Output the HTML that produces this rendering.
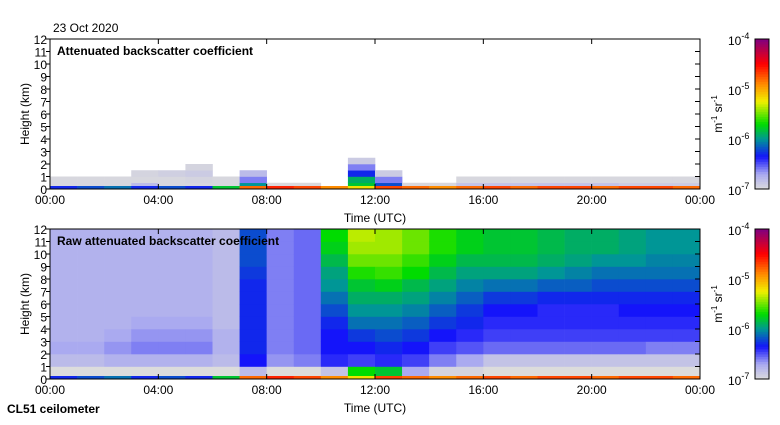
<!DOCTYPE html>
<html><head><meta charset="utf-8"><style>
body{margin:0;background:#fff;}
svg text{font-family:"Liberation Sans",sans-serif;font-size:12px;fill:#000;}
</style></head><body>
<svg id="c" width="780" height="420" xmlns="http://www.w3.org/2000/svg"></svg>
<script>
// ---- data (log10 backscatter) ----
const hours = ["00:00","04:00","08:00","12:00","16:00","20:00","00:00"];
const heightTicks = [0,1,2,3,4,5,6,7,8,9,10,11,12];
const cbarLabels = ["-7","-6","-5","-4"];
// bottom panel: 24 hourly columns, 12 one-km height bins (bottom->top)
const rawGrid = [
 [-7,-6.8,-6.7,-6.75,-6.75,-6.75,-6.75,-6.75,-6.75,-6.75,-6.75,-6.75],
 [-7,-6.8,-6.7,-6.75,-6.75,-6.75,-6.75,-6.75,-6.75,-6.75,-6.75,-6.75],
 [-7,-6.75,-6.65,-6.7,-6.75,-6.75,-6.75,-6.75,-6.75,-6.75,-6.75,-6.75],
 [-7,-6.75,-6.6,-6.65,-6.7,-6.75,-6.75,-6.75,-6.75,-6.75,-6.75,-6.75],
 [-7,-6.75,-6.6,-6.65,-6.7,-6.75,-6.75,-6.75,-6.75,-6.75,-6.75,-6.75],
 [-7,-6.75,-6.6,-6.65,-6.7,-6.75,-6.75,-6.75,-6.75,-6.75,-6.75,-6.75],
 [-7,-6.8,-6.75,-6.75,-6.8,-6.8,-6.8,-6.8,-6.8,-6.8,-6.8,-6.8],
 [-6.8,-6.35,-6.3,-6.3,-6.3,-6.3,-6.3,-6.3,-6.25,-6.2,-6.2,-6.2],
 [-7,-6.65,-6.6,-6.6,-6.6,-6.6,-6.6,-6.6,-6.6,-6.6,-6.6,-6.6],
 [-7,-6.6,-6.55,-6.55,-6.55,-6.55,-6.55,-6.55,-6.55,-6.55,-6.55,-6.55],
 [-6.85,-6.4,-6.35,-6.35,-6.3,-6.2,-6.1,-6.0,-5.95,-5.85,-5.75,-5.7],
 [-5.7,-6.45,-6.35,-6.25,-6.1,-6.0,-5.9,-5.8,-5.65,-5.5,-5.4,-5.35],
 [-5.8,-6.4,-6.3,-6.2,-6.1,-6.0,-5.9,-5.75,-5.6,-5.5,-5.4,-5.4],
 [-6.7,-6.45,-6.35,-6.25,-6.15,-6.05,-5.95,-5.85,-5.7,-5.6,-5.5,-5.5],
 [-6.95,-6.6,-6.45,-6.35,-6.25,-6.15,-6.05,-5.95,-5.85,-5.75,-5.65,-5.65],
 [-6.95,-6.7,-6.5,-6.4,-6.3,-6.25,-6.15,-6.05,-5.95,-5.85,-5.75,-5.75],
 [-7,-6.85,-6.55,-6.45,-6.4,-6.35,-6.25,-6.1,-5.95,-5.85,-5.8,-5.8],
 [-7,-6.85,-6.55,-6.45,-6.4,-6.35,-6.25,-6.1,-5.95,-5.85,-5.8,-5.8],
 [-7,-6.85,-6.55,-6.45,-6.4,-6.4,-6.3,-6.15,-6.0,-5.9,-5.85,-5.85],
 [-7,-6.85,-6.55,-6.45,-6.4,-6.4,-6.3,-6.15,-6.05,-5.95,-5.9,-5.9],
 [-7,-6.85,-6.55,-6.45,-6.4,-6.4,-6.3,-6.2,-6.1,-6.0,-5.9,-5.9],
 [-7,-6.85,-6.55,-6.45,-6.4,-6.35,-6.3,-6.2,-6.1,-6.0,-5.95,-5.95],
 [-7,-6.85,-6.6,-6.45,-6.4,-6.35,-6.3,-6.2,-6.1,-6.05,-6.0,-6.0],
 [-7,-6.85,-6.6,-6.45,-6.4,-6.35,-6.3,-6.2,-6.1,-6.05,-6.0,-6.0]
];
// top panel: 24 hourly columns, 6 half-km bins (0-3 km); null = no signal
const attGrid = [
 [-6.97,-6.97,null,null,null,null],
 [-6.97,-6.97,null,null,null,null],
 [-6.97,-6.97,null,null,null,null],
 [-6.8,-6.97,-6.95,null,null,null],
 [-6.97,-6.97,-6.92,null,null,null],
 [-6.97,-6.95,-6.9,-6.95,null,null],
 [-6.97,-6.97,null,null,null,null],
 [-6.0,-6.6,-6.8,null,null,null],
 [-6.98,null,null,null,null,null],
 [-6.98,null,null,null,null,null],
 [null,null,null,null,null,null],
 [-5.8,-5.9,-6.3,-6.6,-6.9,null],
 [-6.2,-6.6,-6.9,null,null,null],
 [-6.97,null,null,null,null,null],
 [-6.97,null,null,null,null,null],
 [-6.85,-6.97,null,null,null,null],
 [-6.85,-6.97,null,null,null,null],
 [-6.85,-6.97,null,null,null,null],
 [-6.85,-6.97,null,null,null,null],
 [-6.85,-6.97,null,null,null,null],
 [-6.85,-6.97,null,null,null,null],
 [-6.9,-6.97,null,null,null,null],
 [-6.9,-6.97,null,null,null,null],
 [-6.9,-6.97,null,null,null,null]
];
// near-surface strip values per hour
const surface = [-6.3,-6.2,-6.1,-6.3,-6.2,-6.3,-5.8,-4.8,-4.6,-4.7,-4.9,-5.2,-4.7,-4.8,-4.9,-4.8,-4.7,-4.8,-4.7,-4.7,-4.8,-4.7,-4.7,-4.8];

// ---- colormap ----
const stops=[[-7,[220,220,220]],[-6.7,[170,170,240]],[-6.35,[20,20,250]],[-6.0,[0,150,150]],[-5.7,[0,220,0]],[-5.25,[240,240,0]],[-4.9,[255,140,0]],[-4.5,[255,0,0]],[-4,[128,0,128]]];
function cmap(v){
  if(v<=stops[0][0])return `rgb(${stops[0][1]})`;
  for(let i=1;i<stops.length;i++){if(v<=stops[i][0]){const a=stops[i-1],b=stops[i],t=(v-a[0])/(b[0]-a[0]);
    return `rgb(${a[1].map((c,k)=>Math.round(c+(b[1][k]-c)*t))})`;}}
  return `rgb(${stops[stops.length-1][1]})`;
}
const NS="http://www.w3.org/2000/svg", svg=document.getElementById('c');
function el(t,a,p){const e=document.createElementNS(NS,t);for(const k in a)e.setAttribute(k,a[k]);(p||svg).appendChild(e);return e;}
const X0=50,X1=700;
const xs=h=>X0+(X1-X0)*h/24;

function panel(top,bot,grid,kmPerRow,title,name){
  const g=el('g',{});
  
  
  const ys=km=>bot-(bot-top)*km/12;
  grid.forEach((col,i)=>col.forEach((v,j)=>{ if(v===null)return;
    const r=el('rect',{x:xs(i),y:ys((j+1)*kmPerRow),width:xs(i+1)-xs(i)+0.3,height:ys(j*kmPerRow)-ys((j+1)*kmPerRow)+0.3,fill:cmap(v)},g);
    
    
  }));
  surface.forEach((v,i)=>{const r=el('rect',{x:xs(i),y:bot-3,width:xs(i+1)-xs(i)+0.3,height:3,fill:cmap(v)},g);
    
    });
  el('rect',{x:X0,y:top,width:X1-X0,height:bot-top,fill:'none',stroke:'#000','stroke-width':1},g);
  heightTicks.forEach(h=>{const y=ys(h);
    el('line',{x1:X0-4,x2:X0,y1:y,y2:y,stroke:'#000'},g);
    el('line',{x1:X1-5,x2:X1,y1:y,y2:y,stroke:'#000'},g);
    const t=el('text',{x:X0-3,y:y+5,'text-anchor':'end','font-size':'13'},g);t.textContent=h;
    });
  hours.forEach((l,i)=>{const x=xs(i*4);
    el('line',{x1:x,x2:x,y1:top,y2:top+5,stroke:'#000'},g);
    el('line',{x1:x,x2:x,y1:bot-5,y2:bot,stroke:'#000'},g);
    const t=el('text',{x:x,y:bot+15,'text-anchor':'middle','font-size':'13'},g);t.textContent=l;
    });
  const tt=el('text',{x:57,y:top+16,'font-weight':'bold','font-size':'12.5'},g);tt.textContent=title;
  
  const xt=el('text',{x:375,y:bot+33,'text-anchor':'middle','font-size':'12.5'},g);xt.textContent='Time (UTC)';
  
  const yt=el('text',{x:0,y:0,'text-anchor':'middle','font-size':'13',transform:`translate(29,${(top+bot)/2}) rotate(-90)`},g);yt.textContent='Height (km)';
  
  const cb=el('g',{},g);
  
  
  const n=60;
  for(let k=0;k<n;k++){const v=-7+3*k/n;
    el('rect',{x:755,y:bot-(bot-top)*(k+1)/n,width:14,height:(bot-top)/n+0.4,fill:cmap(v+1.5/n)},cb);}
  el('rect',{x:755,y:top,width:14,height:bot-top,fill:'none',stroke:'#000'},cb);
  cbarLabels.forEach((l,k)=>{const y=bot-(bot-top)*k/3;
    const t=el('text',{x:728,y:y+6,'font-size':'13'},cb);t.innerHTML=`10<tspan dy="-6" font-size="9">${l}</tspan>`;
    });
  const u=el('text',{x:0,y:0,'text-anchor':'middle','font-size':'12',transform:`translate(722,${(top+bot)/2}) rotate(-90)`},cb);
  u.innerHTML='m<tspan dy="-5" font-size="8">-1</tspan><tspan dy="5"> sr</tspan><tspan dy="-5" font-size="8">-1</tspan>';
  
}
panel(39,189,attGrid,0.5,'Attenuated backscatter coefficient','attenuated-panel');
panel(229,379,rawGrid,1,'Raw attenuated backscatter coefficient','raw-panel');
const d=el('text',{x:53,y:32,'font-size':'12.5'});d.textContent='23 Oct 2020';

const c=el('text',{x:7,y:413,'font-weight':'bold','font-size':'12.5'});c.textContent='CL51 ceilometer';

</script>
</body></html>
